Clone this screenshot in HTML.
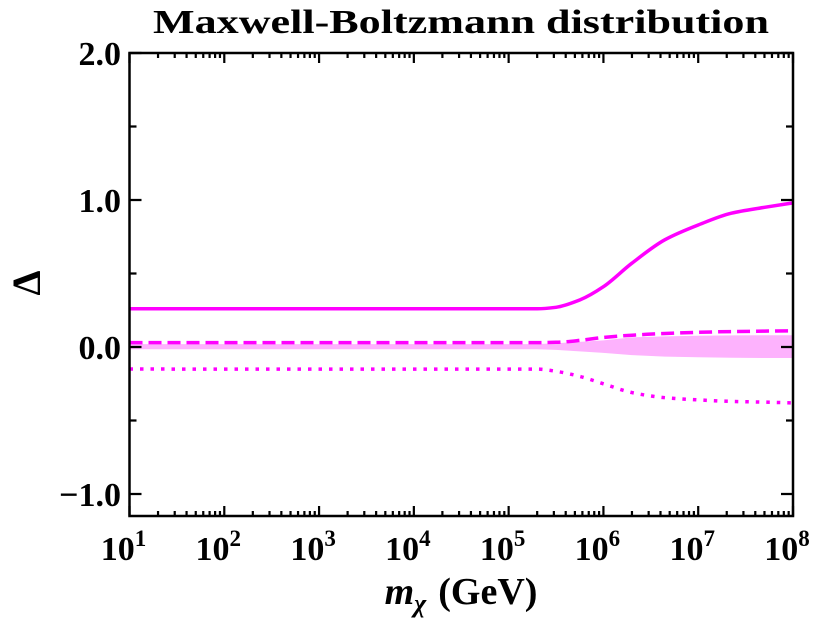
<!DOCTYPE html>
<html><head><meta charset="utf-8"><style>
body{margin:0;background:#fff}
svg{display:block;font-family:"Liberation Serif",serif;font-weight:bold}
</style></head><body>
<svg id="chart" width="830" height="621" viewBox="0 0 830 621">
<text x="461" y="33" text-anchor="middle" font-size="34" textLength="616" lengthAdjust="spacingAndGlyphs">Maxwell-Boltzmann distribution</text>
<g id="plot"></g>
<text x="461" y="604" text-anchor="middle" font-size="38"><tspan font-style="italic">m</tspan><tspan font-style="italic" font-size="26" dy="8">χ</tspan><tspan dy="-8" dx="12">(GeV)</tspan></text>
<text transform="translate(40,283) rotate(-90)" text-anchor="middle" font-size="40">Δ</text>
</svg>
<script>
const lgMass=[1,5.3,5.5,5.75,6,6.3,6.65,7,7.35,7.7,8];
const solidVals=[0.26,0.26,0.27,0.32,0.41,0.57,0.73,0.83,0.91,0.95,0.98];
const dashedVals=[0.03,0.03,0.032,0.045,0.065,0.08,0.092,0.1,0.105,0.108,0.11];
const dottedVals=[-0.15,-0.15,-0.165,-0.2,-0.25,-0.31,-0.345,-0.36,-0.37,-0.375,-0.38];
const bandUpper=[0.02,0.02,0.025,0.035,0.045,0.065,0.072,0.077,0.079,0.08,0.08];
const bandLower=[-0.015,-0.015,-0.02,-0.03,-0.04,-0.055,-0.065,-0.07,-0.073,-0.075,-0.075];
const xTicks=[1,2,3,4,5,6,7,8];
const yTicks=[-1,0,1,2];
const yTickLabels=["−1.0","0.0","1.0","2.0"];
const L=129.5,R=793,T=53,B=516;
const X=lg=>L+(lg-1)*(R-L)/7;
const Y=v=>347-v*147;
const NS="http://www.w3.org/2000/svg";
const g=document.getElementById('plot');
function mk(tag,attrs){const e=document.createElementNS(NS,tag);for(const k in attrs)e.setAttribute(k,attrs[k]);g.appendChild(e);return e;}
function tangents(p){
  const n=p.length,m=[];
  for(let i=0;i<n;i++){
    if(i===0||i===n-1){const a=p[Math.max(0,i-1)],b=p[Math.min(n-1,i+1)];m.push((b[1]-a[1])/(b[0]-a[0]));}
    else{const s0=(p[i][1]-p[i-1][1])/(p[i][0]-p[i-1][0]),s1=(p[i+1][1]-p[i][1])/(p[i+1][0]-p[i][0]);
      m.push(s0*s1<=0?0:2/(1/s0+1/s1));}
  }
  m[0]=0;return m;
}
function smooth(a){
  const p=lgMass.map((v,i)=>[X(v),Y(a[i])]);const m=tangents(p);
  let d=`M${p[0][0]},${p[0][1]}`;
  for(let i=0;i<p.length-1;i++){
    const dx=(p[i+1][0]-p[i][0])/3;
    d+=`C${(p[i][0]+dx).toFixed(1)},${(p[i][1]+m[i]*dx).toFixed(1)} ${(p[i+1][0]-dx).toFixed(1)},${(p[i+1][1]-m[i+1]*dx).toFixed(1)} ${p[i+1][0].toFixed(1)},${p[i+1][1].toFixed(1)}`;
  }
  return d;
}
const pts=a=>lgMass.map((m,i)=>X(m).toFixed(1)+','+Y(a[i]).toFixed(1)).join(' ');
const band=mk('polygon',{points:pts(bandUpper)+' '+lgMass.map((m,i)=>[m,bandLower[i]]).reverse().map(p=>X(p[0]).toFixed(1)+','+Y(p[1]).toFixed(1)).join(' '),fill:'#fdb2fd'});


const s1=mk('path',{d:smooth(solidVals),fill:'none',stroke:'#ff00ff','stroke-width':3.5,'stroke-linejoin':'round'});


const s2=mk('path',{d:smooth(dashedVals),fill:'none',stroke:'#ff00ff','stroke-width':3.5,'stroke-dasharray':'13,6'});


const s3=mk('path',{d:smooth(dottedVals),fill:'none',stroke:'#ff00ff','stroke-width':3.5,'stroke-dasharray':'3.5,7'});


const fr=mk('rect',{x:L,y:T,width:R-L,height:B-T,fill:'none',stroke:'#000','stroke-width':2.5});


let d='';
for(let dec=1;dec<8;dec++)for(let k=2;k<=9;k++){const x=X(dec+Math.log10(k));d+=`M${x},${B}v-5M${x},${T}v5`;}
xTicks.forEach(t=>{const x=X(t);d+=`M${x},${B}v-10M${x},${T}v10`;});
for(let v=-1;v<=2;v+=0.5){const y=Y(v),len=Number.isInteger(v)?12:7;d+=`M${L},${y}h${len}M${R},${y}h-${len}`;}
const tk=mk('path',{d:d,stroke:'#000','stroke-width':2.2,fill:'none'});


xTicks.forEach(t=>{const tx=mk('text',{x:X(t)-6,y:560,'text-anchor':'middle','font-size':34});
tx.innerHTML=`10<tspan font-size="23" dy="-14">${t}</tspan>`;

});
yTicks.forEach((t,i)=>{const tx=mk('text',{x:121,y:Y(t)+12,'text-anchor':'end','font-size':34});
tx.textContent=yTickLabels[i];

});
</script>
</body></html>
